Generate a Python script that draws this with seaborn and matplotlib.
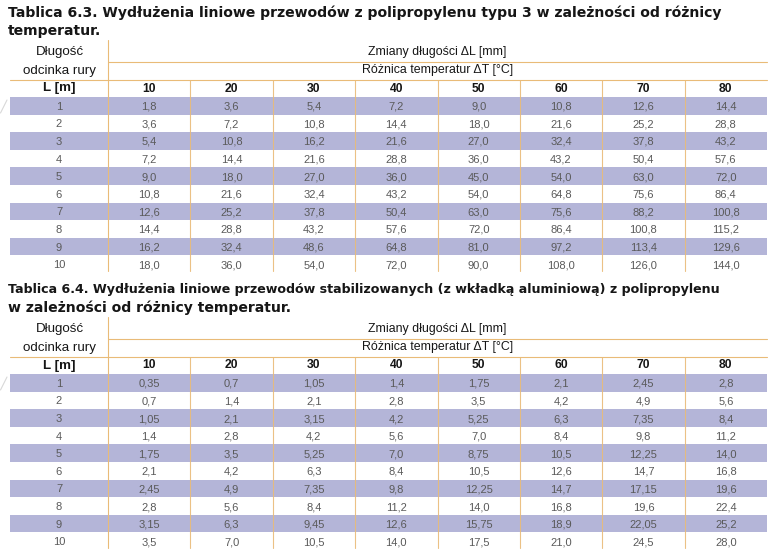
import numpy as np
import matplotlib
matplotlib.use("Agg")
import matplotlib.pyplot as plt
from matplotlib.colors import ListedColormap
import seaborn as sns

sns.set_theme(style="white")
plt.rcParams['font.family'] = ['Liberation Sans', 'DejaVu Sans']

# ---------------- data ----------------
delta_t = [10, 20, 30, 40, 50, 60, 70, 80]
lengths = [1, 2, 3, 4, 5, 6, 7, 8, 9, 10]

title1 = ["Tablica 6.3. Wydłużenia liniowe przewodów z polipropylenu typu 3 w zależności od różnicy",
          "temperatur."]
title2 = ["Tablica 6.4. Wydłużenia liniowe przewodów stabilizowanych (z wkładką aluminiową) z polipropylenu",
          "w zależności od różnicy temperatur."]

head_len = ["Długość", "odcinka rury", "L [m]"]
head_change = "Zmiany długości ΔL [mm]"
head_temp = "Różnica temperatur ΔT [°C]"

values1 = [
    [1.8, 3.6, 5.4, 7.2, 9.0, 10.8, 12.6, 14.4],
    [3.6, 7.2, 10.8, 14.4, 18.0, 21.6, 25.2, 28.8],
    [5.4, 10.8, 16.2, 21.6, 27.0, 32.4, 37.8, 43.2],
    [7.2, 14.4, 21.6, 28.8, 36.0, 43.2, 50.4, 57.6],
    [9.0, 18.0, 27.0, 36.0, 45.0, 54.0, 63.0, 72.0],
    [10.8, 21.6, 32.4, 43.2, 54.0, 64.8, 75.6, 86.4],
    [12.6, 25.2, 37.8, 50.4, 63.0, 75.6, 88.2, 100.8],
    [14.4, 28.8, 43.2, 57.6, 72.0, 86.4, 100.8, 115.2],
    [16.2, 32.4, 48.6, 64.8, 81.0, 97.2, 113.4, 129.6],
    [18.0, 36.0, 54.0, 72.0, 90.0, 108.0, 126.0, 144.0],
]
values2 = [
    [0.35, 0.7, 1.05, 1.4, 1.75, 2.1, 2.45, 2.8],
    [0.7, 1.4, 2.1, 2.8, 3.5, 4.2, 4.9, 5.6],
    [1.05, 2.1, 3.15, 4.2, 5.25, 6.3, 7.35, 8.4],
    [1.4, 2.8, 4.2, 5.6, 7.0, 8.4, 9.8, 11.2],
    [1.75, 3.5, 5.25, 7.0, 8.75, 10.5, 12.25, 14.0],
    [2.1, 4.2, 6.3, 8.4, 10.5, 12.6, 14.7, 16.8],
    [2.45, 4.9, 7.35, 9.8, 12.25, 14.7, 17.15, 19.6],
    [2.8, 5.6, 8.4, 11.2, 14.0, 16.8, 19.6, 22.4],
    [3.15, 6.3, 9.45, 12.6, 15.75, 18.9, 22.05, 25.2],
    [3.5, 7.0, 10.5, 14.0, 17.5, 21.0, 24.5, 28.0],
]

# ---------------- style ----------------
W, H = 783, 553
BAND = "#b4b5d8"
LINE = "#e9bb78"
TXT = "#5a5a5a"
DARK = "#161616"


def fmt1(v):
    return f"{v:.1f}".replace(".", ",")


def fmt2(v):
    s = f"{v:.2f}"
    if s.endswith("0"):
        s = s[:-1]
    return s.replace(".", ",")


fig = plt.figure(figsize=(W / 100, H / 100), dpi=100)
ax0 = fig.add_axes([0, 0, 1, 1])
ax0.set_xlim(0, W)
ax0.set_ylim(H, 0)
ax0.axis("off")
ax0.set_zorder(10)
ax0.patch.set_visible(False)


def px_axes(x0, y0, x1, y1):
    return fig.add_axes([x0 / W, 1 - y1 / H, (x1 - x0) / W, (y1 - y0) / H])


def draw_table(values, fmt, titles, title_sizes, dy):
    left, split, right = 10, 108, 767
    row_top, row_h = 97 + dy, 17.6
    n = len(values)
    row_bot = row_top + n * row_h
    band = np.array([[1 if i % 2 == 0 else 0] * len(delta_t) for i in range(n)])
    cmap = ListedColormap(["white", BAND])
    akw = dict(color=TXT, fontsize=8, va="center_baseline")

    # titles
    for k, (t, fs) in enumerate(zip(titles, title_sizes)):
        ax0.text(8, 12.5 + dy + k * 18.5, t, fontsize=fs, fontweight="bold",
                 family=["DejaVu Sans"], color=DARK, ha="left", va="center")

    # data cells
    axd = px_axes(split, row_top, right, row_bot)
    annot = np.array([[fmt(v) for v in row] for row in values])
    sns.heatmap(band, ax=axd, cmap=cmap, vmin=0, vmax=1, cbar=False,
                annot=annot, fmt="", xticklabels=False, yticklabels=False,
                annot_kws=akw)
    axd.axis("off")

    # length column
    axl = px_axes(left, row_top, split, row_bot)
    sns.heatmap(band[:, :1], ax=axl, cmap=cmap, vmin=0, vmax=1, cbar=False,
                annot=np.array([[str(v)] for v in lengths]), fmt="",
                xticklabels=False, yticklabels=False, annot_kws=akw)
    axl.axis("off")

    # header
    hy = [52 + dy, 71 + dy, 88.5 + dy]
    cx = (left + split) / 2 + 0.5
    ax0.text(cx, hy[0], head_len[0], fontsize=9.6, color=DARK, ha="center", va="center")
    ax0.text(cx, hy[1], head_len[1], fontsize=9.6, color=DARK, ha="center", va="center")
    ax0.text(cx, hy[2], head_len[2], fontsize=9.6, fontweight="bold", color=DARK,
             ha="center", va="center")
    mid = (split + right) / 2
    ax0.text(mid, hy[0], head_change, fontsize=8.9, color=DARK, ha="center", va="center")
    ax0.text(mid, hy[1] - 1, head_temp, fontsize=8.9, color=DARK, ha="center", va="center")
    cw = (right - split) / len(delta_t)
    for j, t in enumerate(delta_t):
        ax0.text(split + (j + 0.5) * cw, hy[2], str(t), fontsize=8.7, fontweight="bold",
                 color=DARK, ha="center", va="center")

    # lines
    ax0.plot([split, right], [62 + dy, 62 + dy], color=LINE, lw=0.8)
    ax0.plot([left, right], [80 + dy, 80 + dy], color=LINE, lw=0.8)
    ax0.plot([split, split], [40 + dy, row_bot - 2], color=LINE, lw=0.8)
    for j in range(1, len(delta_t)):
        xx = split + j * cw
        ax0.plot([xx, xx], [80 + dy, row_bot - 2], color=LINE, lw=0.8, alpha=0.9)
    # faint scan artefact at left
    ax0.plot([0.5, 7], [row_top + 16, row_top + 3], color="#d8d8d8", lw=0.8)


draw_table(values1, fmt1, title1, [10.05, 10.05], 0)
draw_table(values2, fmt2, title2, [9.05, 10.1], 277)

fig.savefig("out.png", dpi=100)
